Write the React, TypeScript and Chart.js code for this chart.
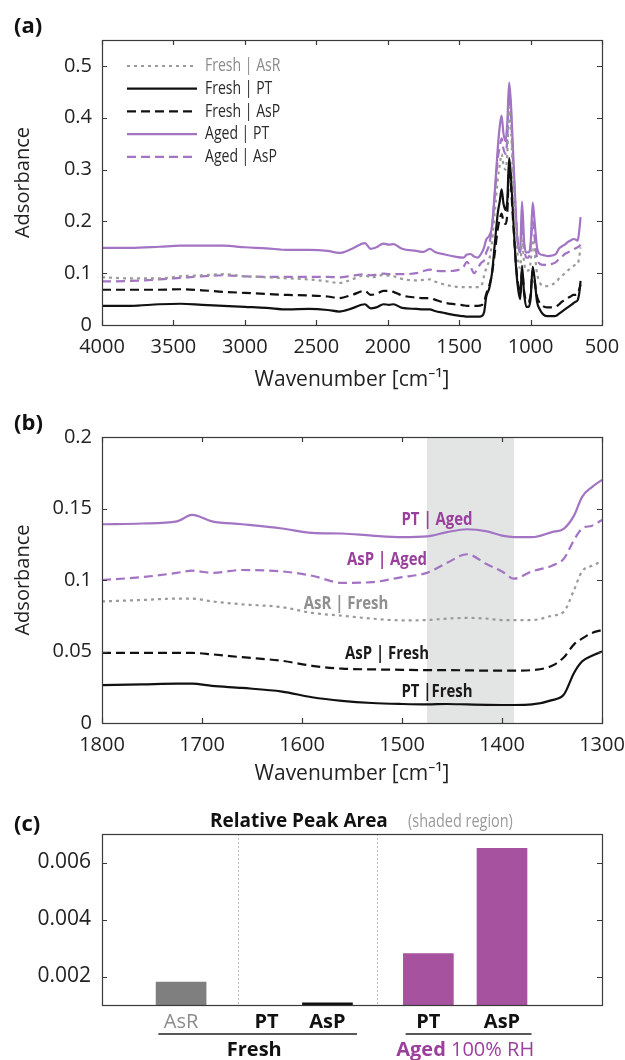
import React, { useEffect, useRef } from 'react';
import { Chart, registerables } from 'chart.js';

Chart.register(...registerables);

const FONT = '"Open Sans", "Noto Sans", "DejaVu Sans", sans-serif';
const PURPLE_LINE = '#a274c3';
const PURPLE_TEXT = '#9a3f9c';
const PURPLE_BAR = '#a6529f';
const GRAY_LINE = '#9a9a9a';
const AXIS = '#3a3a3a';
const TEXT = '#222222';

// ---------- Panel (a): full spectra ----------
const wavenumbersA = [4000, 3800, 3600, 3450, 3300, 3150, 3000, 2850, 2700, 2550,
  2420, 2340, 2250, 2160, 2120, 2080, 2030, 1990, 1960, 1900,
  1800, 1750, 1705, 1670, 1600, 1530, 1470, 1445, 1420, 1395,
  1370, 1345, 1325, 1310, 1290, 1270, 1250, 1230, 1215, 1203,
  1190, 1175, 1163, 1150, 1138, 1120, 1100, 1085, 1072, 1060,
  1045, 1030, 1015, 1000, 985, 972, 955, 935, 910, 880,
  850, 820, 800, 780, 760, 740, 720, 700, 685, 670,
  660, 650];

const freshAsR_A = [0.092, 0.090, 0.090, 0.094, 0.096, 0.098, 0.094, 0.092, 0.090, 0.088,
  0.084, 0.081, 0.088, 0.096, 0.092, 0.093, 0.097, 0.095, 0.094, 0.089,
  0.086, 0.087, 0.088, 0.084, 0.078, 0.074, 0.073, 0.073, 0.073, 0.073,
  0.073, 0.075, 0.095, 0.110, 0.125, 0.160, 0.220, 0.280, 0.310, 0.330,
  0.310, 0.300, 0.330, 0.420, 0.380, 0.270, 0.170, 0.120, 0.110, 0.165,
  0.120, 0.105, 0.105, 0.120, 0.165, 0.140, 0.100, 0.082, 0.075, 0.075,
  0.078, 0.083, 0.090, 0.095, 0.100, 0.105, 0.110, 0.114, 0.116, 0.118,
  0.130, 0.150];

const freshPT_A = [0.037, 0.037, 0.040, 0.041, 0.039, 0.037, 0.035, 0.033, 0.030, 0.031,
  0.029, 0.026, 0.032, 0.040, 0.032, 0.034, 0.040, 0.039, 0.040, 0.033,
  0.031, 0.030, 0.030, 0.027, 0.023, 0.019, 0.017, 0.016, 0.016, 0.016,
  0.016, 0.017, 0.025, 0.055, 0.070, 0.100, 0.158, 0.215, 0.240, 0.262,
  0.235, 0.222, 0.240, 0.322, 0.290, 0.200, 0.105, 0.065, 0.050, 0.114,
  0.060, 0.035, 0.035, 0.050, 0.112, 0.090, 0.045, 0.030, 0.020, 0.017,
  0.017, 0.018, 0.022, 0.026, 0.030, 0.034, 0.038, 0.042, 0.045, 0.048,
  0.060, 0.085];

const freshAsP_A = [0.068, 0.068, 0.068, 0.069, 0.067, 0.064, 0.062, 0.060, 0.058, 0.057,
  0.055, 0.052, 0.058, 0.066, 0.058, 0.060, 0.066, 0.066, 0.064, 0.057,
  0.053, 0.052, 0.052, 0.049, 0.043, 0.040, 0.038, 0.037, 0.037, 0.037,
  0.037, 0.038, 0.045, 0.060, 0.075, 0.100, 0.140, 0.185, 0.205, 0.215,
  0.200, 0.195, 0.215, 0.300, 0.270, 0.190, 0.110, 0.075, 0.060, 0.105,
  0.065, 0.045, 0.045, 0.058, 0.105, 0.085, 0.055, 0.042, 0.036, 0.034,
  0.034, 0.036, 0.040, 0.045, 0.048, 0.052, 0.055, 0.058, 0.058, 0.060,
  0.068, 0.078];

const agedPT_A = [0.149, 0.149, 0.151, 0.153, 0.153, 0.153, 0.150, 0.148, 0.145, 0.145,
  0.143, 0.139, 0.147, 0.158, 0.147, 0.150, 0.157, 0.155, 0.156, 0.147,
  0.143, 0.141, 0.147, 0.141, 0.136, 0.132, 0.130, 0.136, 0.137, 0.132,
  0.130, 0.138, 0.150, 0.165, 0.172, 0.190, 0.260, 0.340, 0.385, 0.404,
  0.370, 0.355, 0.390, 0.468, 0.430, 0.320, 0.200, 0.145, 0.150, 0.238,
  0.160, 0.140, 0.140, 0.155, 0.236, 0.200, 0.150, 0.137, 0.135, 0.133,
  0.134, 0.138, 0.148, 0.152, 0.155, 0.160, 0.163, 0.166, 0.165, 0.163,
  0.180, 0.208];

const agedAsP_A = [0.084, 0.085, 0.088, 0.091, 0.094, 0.096, 0.094, 0.093, 0.093, 0.093,
  0.093, 0.092, 0.095, 0.098, 0.096, 0.097, 0.099, 0.098, 0.098, 0.098,
  0.100, 0.104, 0.107, 0.105, 0.104, 0.105, 0.112, 0.122, 0.112, 0.100,
  0.110, 0.120, 0.125, 0.140, 0.155, 0.190, 0.250, 0.320, 0.345, 0.360,
  0.340, 0.330, 0.360, 0.445, 0.410, 0.300, 0.200, 0.150, 0.140, 0.190,
  0.150, 0.130, 0.130, 0.150, 0.200, 0.170, 0.130, 0.118, 0.116, 0.116,
  0.118, 0.122, 0.128, 0.132, 0.137, 0.140, 0.143, 0.146, 0.148, 0.150,
  0.152, 0.155];

const legendLabelsA = ['Fresh | AsR', 'Fresh | PT', 'Fresh | AsP', 'Aged | PT', 'Aged | AsP'];
const xTicksA = [4000, 3500, 3000, 2500, 2000, 1500, 1000, 500];
const yTicksA = [0, 0.1, 0.2, 0.3, 0.4, 0.5];

// ---------- Panel (b): zoom 1800-1300 ----------
const wavenumbersB = [1800, 1760, 1725, 1710, 1690, 1660, 1620, 1590, 1560, 1530,
  1500, 1475, 1455, 1435, 1415, 1400, 1388, 1370, 1350, 1338,
  1328, 1320, 1310, 1300];
const ptAged_B = [0.139, 0.1395, 0.141, 0.1455, 0.141, 0.139, 0.136, 0.133, 0.1325, 0.131,
  0.130, 0.1305, 0.1335, 0.1355, 0.134, 0.131, 0.130, 0.130, 0.1335, 0.136,
  0.145, 0.158, 0.165, 0.170];
const aspAged_B = [0.100, 0.102, 0.105, 0.1065, 0.105, 0.107, 0.106, 0.103, 0.098, 0.0985,
  0.102, 0.105, 0.112, 0.118, 0.111, 0.106, 0.101, 0.106, 0.110, 0.115,
  0.128, 0.136, 0.138, 0.142];
const asrFresh_B = [0.085, 0.086, 0.087, 0.087, 0.085, 0.083, 0.081, 0.077, 0.075, 0.073,
  0.0718, 0.072, 0.073, 0.0735, 0.073, 0.072, 0.072, 0.072, 0.075, 0.078,
  0.093, 0.106, 0.110, 0.113];
const aspFresh_B = [0.049, 0.049, 0.049, 0.049, 0.048, 0.046, 0.0435, 0.040, 0.038, 0.0375,
  0.0372, 0.037, 0.037, 0.0368, 0.0366, 0.0366, 0.0366, 0.037, 0.040, 0.046,
  0.055, 0.059, 0.063, 0.065];
const ptFresh_B = [0.0265, 0.027, 0.0275, 0.0275, 0.026, 0.0245, 0.022, 0.018, 0.0155, 0.014,
  0.0133, 0.013, 0.0133, 0.013, 0.0127, 0.0126, 0.0126, 0.013, 0.016, 0.020,
  0.035, 0.043, 0.047, 0.050];
const seriesLabelsB = ['PT | Aged', 'AsP | Aged', 'AsR | Fresh', 'AsP | Fresh', 'PT |Fresh'];
const xTicksB = [1800, 1700, 1600, 1500, 1400, 1300];
const yTicksB = [0, 0.05, 0.1, 0.15, 0.2];
const shadedRegion = [1475, 1388];

// ---------- Panel (c): relative peak area ----------
const barCategories = ['AsR', 'PT', 'AsP', 'PT', 'AsP'];
const barGroups = ['Fresh', 'Fresh', 'Fresh', 'Aged', 'Aged'];
const barValues = [0.0018, 0.0009, 0.00108, 0.0028, 0.0065];
const barSlots = [1.24, 3.12, 4.46, 6.68, 8.3];
const groupSeparators = [2.5, 5.56];
const yTicksC = [0.002, 0.004, 0.006];

// ---------- helpers ----------
const setTicks = (vals: number[]) => (scale: any) => {
  scale.ticks = vals.map((v) => ({ value: v }));
};
const fixSize = (size: number, horizontal: boolean) => (scale: any) => {
  if (horizontal) scale.height = size;
  else scale.width = size;
  scale.paddingLeft = 0;
  scale.paddingRight = 0;
  scale.paddingTop = 0;
  scale.paddingBottom = 0;
};

const framePlugin = {
  id: 'frame',
  afterDraw(chart: any, _args: any, opts: any) {
    const { ctx, chartArea } = chart;
    const { left, right, top, bottom } = chartArea;
    const xs = chart.scales.x;
    const ys = chart.scales.y;
    const L = 5;
    ctx.save();
    ctx.strokeStyle = AXIS;
    ctx.lineWidth = 1.2;
    ctx.beginPath();
    if (opts.xTicks) {
      for (const t of xs.ticks) {
        const p = Math.round(xs.getPixelForValue(t.value)) + 0.5;
        ctx.moveTo(p, bottom); ctx.lineTo(p, bottom - L);
        ctx.moveTo(p, top); ctx.lineTo(p, top + L);
      }
    }
    for (const t of ys.ticks) {
      const p = Math.round(ys.getPixelForValue(t.value)) + 0.5;
      ctx.moveTo(left, p); ctx.lineTo(left + L, p);
      ctx.moveTo(right, p); ctx.lineTo(right - L, p);
    }
    ctx.stroke();
    ctx.strokeRect(Math.round(left) + 0.5, Math.round(top) + 0.5, Math.round(right - left), Math.round(bottom - top));
    ctx.restore();
  },
};

function drawScaledText(ctx: any, text: string, x: number, y: number, sx: number, align: string) {
  ctx.save();
  ctx.translate(x, y);
  ctx.scale(sx, 1);
  ctx.textAlign = align;
  ctx.textBaseline = 'middle';
  ctx.fillText(text, 0, 0);
  ctx.restore();
}

const legendPluginA = {
  id: 'legendA',
  afterDraw(chart: any) {
    const { ctx } = chart;
    ctx.save();
    chart.data.datasets.forEach((ds: any, i: number) => {
      const y = 66 + i * 22.7;
      ctx.beginPath();
      ctx.strokeStyle = ds.borderColor;
      ctx.lineWidth = 2.2;
      ctx.setLineDash(ds.borderDash || []);
      ctx.moveTo(127, y);
      ctx.lineTo(197, y);
      ctx.stroke();
      ctx.setLineDash([]);
      ctx.fillStyle = i === 0 ? '#8a8a8a' : '#2a2a2a';
      ctx.font = `18px ${FONT}`;
      drawScaledText(ctx, ds.label, 205, y, 0.78, 'left');
    });
    ctx.restore();
  },
};

const shadePlugin = {
  id: 'shade',
  beforeDatasetsDraw(chart: any) {
    const { ctx, chartArea } = chart;
    const xs = chart.scales.x;
    const a = xs.getPixelForValue(shadedRegion[0]);
    const b = xs.getPixelForValue(shadedRegion[1]);
    ctx.save();
    ctx.fillStyle = '#e3e5e5';
    ctx.fillRect(Math.min(a, b), chartArea.top, Math.abs(b - a), chartArea.bottom - chartArea.top);
    ctx.restore();
  },
};

const labelAnchorsB = [
  { x: 1465, y: 0.142, color: PURPLE_TEXT },
  { x: 1515, y: 0.114, color: PURPLE_TEXT },
  { x: 1556, y: 0.0832, color: '#8f8f8f' },
  { x: 1515, y: 0.0483, color: '#1a1a1a' },
  { x: 1465, y: 0.0217, color: '#1a1a1a' },
];

const labelsPluginB = {
  id: 'labelsB',
  afterDatasetsDraw(chart: any) {
    const { ctx } = chart;
    const xs = chart.scales.x;
    const ys = chart.scales.y;
    ctx.save();
    ctx.font = `bold 18px ${FONT}`;
    seriesLabelsB.forEach((txt, i) => {
      const a = labelAnchorsB[i];
      ctx.fillStyle = a.color;
      drawScaledText(ctx, txt, xs.getPixelForValue(a.x), ys.getPixelForValue(a.y), 0.83, 'center');
    });
    ctx.restore();
  },
};

const barDecorPlugin = {
  id: 'barDecor',
  beforeDatasetsDraw(chart: any) {
    const { ctx, chartArea } = chart;
    const xs = chart.scales.x;
    ctx.save();
    ctx.strokeStyle = '#bdbdbd';
    ctx.lineWidth = 1;
    ctx.setLineDash([2, 2]);
    groupSeparators.forEach((s) => {
      const p = Math.round(xs.getPixelForValue(s)) + 0.5;
      ctx.beginPath();
      ctx.moveTo(p, chartArea.top);
      ctx.lineTo(p, chartArea.bottom);
      ctx.stroke();
    });
    ctx.restore();
  },
  afterDraw(chart: any) {
    const { ctx, chartArea } = chart;
    const xs = chart.scales.x;
    const base = chartArea.bottom;
    ctx.save();
    ctx.textBaseline = 'middle';
    ctx.textAlign = 'center';
    barCategories.forEach((c, i) => {
      const px = xs.getPixelForValue(barSlots[i]);
      if (i === 0) {
        ctx.font = `20px ${FONT}`;
        ctx.fillStyle = '#8c8c8c';
      } else {
        ctx.font = `bold 20px ${FONT}`;
        ctx.fillStyle = '#111111';
      }
      ctx.fillText(c, px, base + 17);
    });
    const groups = Array.from(new Set(barGroups));
    groups.forEach((g) => {
      const idx = barGroups.map((v, i) => (v === g ? i : -1)).filter((i) => i >= 0);
      const first = barSlots[idx[0]];
      const last = barSlots[idx[idx.length - 1]];
      const x0 = xs.getPixelForValue(first - 0.5);
      const x1 = xs.getPixelForValue(last + 0.65);
      ctx.strokeStyle = '#222222';
      ctx.lineWidth = 1.5;
      ctx.beginPath();
      ctx.moveTo(x0, base + 29);
      ctx.lineTo(x1, base + 29);
      ctx.stroke();
      const cx = xs.getPixelForValue((first + last) / 2);
      const y = base + 45;
      if (g === 'Fresh') {
        ctx.font = `bold 20px ${FONT}`;
        ctx.fillStyle = '#111111';
        ctx.textAlign = 'center';
        ctx.fillText('Fresh', cx, y);
      } else {
        ctx.font = `bold 20px ${FONT}`;
        const w1 = ctx.measureText('Aged').width;
        ctx.font = `20px ${FONT}`;
        const w2 = ctx.measureText(' 100% RH').width;
        const start = cx - (w1 + w2) / 2;
        ctx.textAlign = 'left';
        ctx.fillStyle = PURPLE_TEXT;
        ctx.font = `bold 20px ${FONT}`;
        ctx.fillText('Aged', start, y);
        ctx.font = `20px ${FONT}`;
        ctx.fillText(' 100% RH', start + w1, y);
      }
    });
    ctx.textAlign = 'left';
    ctx.font = `bold 19px ${FONT}`;
    ctx.fillStyle = '#111111';
    ctx.fillText('Relative Peak Area', 210, 32);
    ctx.fillStyle = '#9a9a9a';
    ctx.font = `19px ${FONT}`;
    drawScaledText(ctx, '(shaded region)', 408, 32, 0.76, 'left');
    ctx.restore();
  },
};

const tickFont = (size: number) => ({ family: FONT, size });

function lineScales(xTicks: number[], yTicks: number[], xMin: number, xMax: number, yMax: number, xAxisHeight: number, titlePadBottom: number) {
  return {
    x: {
      type: 'linear',
      reverse: true,
      min: xMin,
      max: xMax,
      afterBuildTicks: setTicks(xTicks),
      afterFit: fixSize(xAxisHeight, true),
      grid: { display: false, drawTicks: false },
      border: { display: false },
      ticks: { autoSkip: false, maxRotation: 0, padding: 10, color: TEXT, font: tickFont(20), callback: (v: any) => String(v) },
      title: { display: true, text: 'Wavenumber [cm⁻¹]', color: TEXT, font: tickFont(21), padding: { top: 0, bottom: titlePadBottom } },
    },
    y: {
      type: 'linear',
      min: 0,
      max: yMax,
      afterBuildTicks: setTicks(yTicks),
      afterFit: fixSize(102, false),
      grid: { display: false, drawTicks: false },
      border: { display: false },
      ticks: { padding: 10, color: TEXT, font: tickFont(20), callback: (v: any) => String(v) },
      title: { display: true, text: 'Adsorbance', color: TEXT, font: tickFont(20), padding: { top: 11, bottom: 0 } },
    },
  };
}

function lineDataset(label: string, xs: number[], ys: number[], color: string, dash: number[]) {
  return {
    label,
    data: xs.map((x, i) => ({ x, y: ys[i] })),
    borderColor: color,
    backgroundColor: color,
    borderWidth: 2.2,
    borderDash: dash,
    pointRadius: 0,
    cubicInterpolationMode: 'monotone',
    fill: false,
  };
}

const DASH = [9, 5];
const DOT = [3, 4];

function useChart(ref: any, makeConfig: () => any) {
  useEffect(() => {
    const chart = new Chart(ref.current, makeConfig());
    return () => chart.destroy();
  }, []);
}

export default function App() {
  const refA = useRef<HTMLCanvasElement>(null);
  const refB = useRef<HTMLCanvasElement>(null);
  const refC = useRef<HTMLCanvasElement>(null);

  useChart(refA, () => ({
    type: 'line',
    data: {
      datasets: [
        lineDataset(legendLabelsA[0], wavenumbersA, freshAsR_A, GRAY_LINE, DOT),
        lineDataset(legendLabelsA[1], wavenumbersA, freshPT_A, '#111111', []),
        lineDataset(legendLabelsA[2], wavenumbersA, freshAsP_A, '#111111', DASH),
        lineDataset(legendLabelsA[3], wavenumbersA, agedPT_A, PURPLE_LINE, []),
        lineDataset(legendLabelsA[4], wavenumbersA, agedAsP_A, PURPLE_LINE, DASH),
      ],
    },
    options: {
      animation: false,
      responsive: false,
      layout: { padding: { top: 40, right: 23, left: 0, bottom: 0 } },
      plugins: { legend: { display: false }, tooltip: { enabled: false }, frame: { xTicks: true } },
      scales: lineScales(xTicksA, yTicksA, 500, 4000, 0.55, 75, 7),
    },
    plugins: [framePlugin, legendPluginA],
  }));

  useChart(refB, () => ({
    type: 'line',
    data: {
      datasets: [
        lineDataset(seriesLabelsB[0], wavenumbersB, ptAged_B, PURPLE_LINE, []),
        lineDataset(seriesLabelsB[1], wavenumbersB, aspAged_B, PURPLE_LINE, DASH),
        lineDataset(seriesLabelsB[2], wavenumbersB, asrFresh_B, GRAY_LINE, DOT),
        lineDataset(seriesLabelsB[3], wavenumbersB, aspFresh_B, '#111111', DASH),
        lineDataset(seriesLabelsB[4], wavenumbersB, ptFresh_B, '#111111', []),
      ],
    },
    options: {
      animation: false,
      responsive: false,
      layout: { padding: { top: 42, right: 23, left: 0, bottom: 0 } },
      plugins: { legend: { display: false }, tooltip: { enabled: false }, frame: { xTicks: true } },
      scales: lineScales(xTicksB, yTicksB, 1300, 1800, 0.2, 67, 3),
    },
    plugins: [shadePlugin, framePlugin, labelsPluginB],
  }));

  useChart(refC, () => ({
    type: 'bar',
    data: {
      datasets: [
        {
          label: 'Relative Peak Area',
          data: barSlots.map((x, i) => ({ x, y: barValues[i] })),
          backgroundColor: ['#7f7f7f', '#111111', '#111111', PURPLE_BAR, PURPLE_BAR],
          barThickness: 50,
          borderWidth: 0,
        },
      ],
    },
    options: {
      animation: false,
      responsive: false,
      layout: { padding: { top: 44, right: 23, left: 0, bottom: 0 } },
      plugins: { legend: { display: false }, tooltip: { enabled: false }, frame: { xTicks: false } },
      scales: {
        x: {
          type: 'linear',
          min: 0,
          max: 10,
          afterFit: fixSize(55, true),
          grid: { display: false, drawTicks: false },
          border: { display: false },
          ticks: { display: false },
        },
        y: {
          type: 'linear',
          min: 0.001,
          max: 0.007,
          afterBuildTicks: setTicks(yTicksC),
          afterFit: fixSize(102, false),
          grid: { display: false, drawTicks: false },
          border: { display: false },
          ticks: { padding: 11, color: TEXT, font: tickFont(21), callback: (v: any) => String(v) },
        },
      },
    },
    plugins: [barDecorPlugin, framePlugin],
  }));

  const panelLabel = (text: string, top: number) => (
    <div
      style={{
        position: 'absolute',
        left: 14,
        top,
        font: `bold 22px ${FONT}`,
        lineHeight: '24px',
        color: '#111',
      }}
    >
      {text}
    </div>
  );

  return (
    <div style={{ position: 'absolute', left: 0, top: 0, width: 625, height: 1060, background: '#fff', overflow: 'hidden' }}>
      <canvas ref={refA} width={625} height={400} style={{ position: 'absolute', left: 0, top: 0 }} />
      <canvas ref={refB} width={625} height={395} style={{ position: 'absolute', left: 0, top: 395 }} />
      <canvas ref={refC} width={625} height={270} style={{ position: 'absolute', left: 0, top: 790 }} />
      {panelLabel('(a)', 12)}
      {panelLabel('(b)', 409)}
      {panelLabel('(c)', 810)}
    </div>
  );
}
